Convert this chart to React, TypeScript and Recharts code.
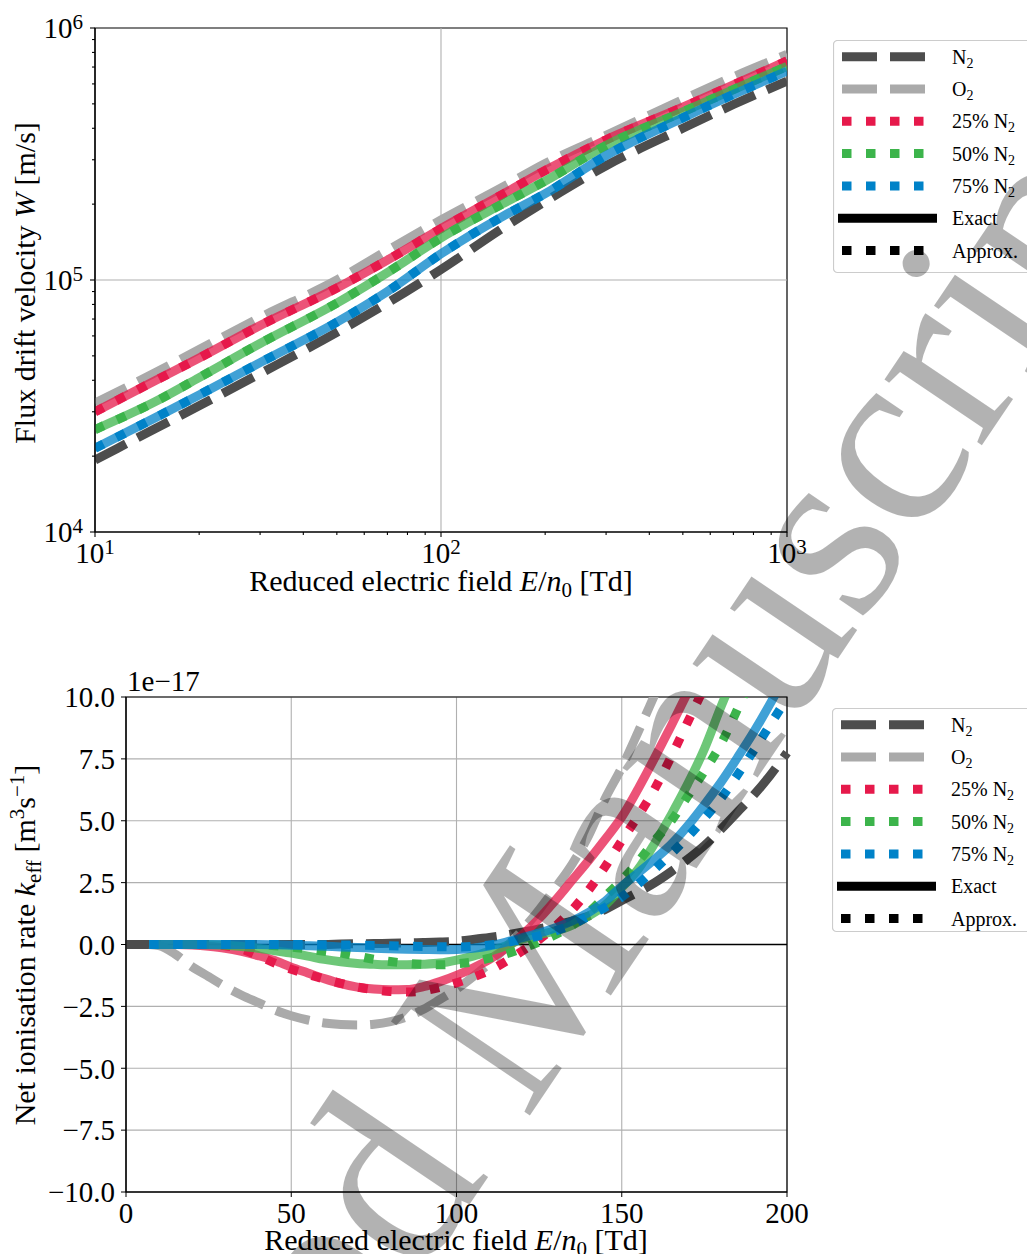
import React from 'react';
import { LineChart, Line, XAxis, YAxis, CartesianGrid, ReferenceLine, ReferenceArea, Legend } from 'recharts';

const SERIF = '"Liberation Serif", "Times New Roman", serif';

const N2_COLOR = '#4d4d4d';
const O2_COLOR = '#aaaaaa';
const C25 = '#e6194b';
const C50 = '#3cb44b';
const C75 = '#0082c8';
const DASH = '35 13';
const DOT = '9.5 14.5';

// top panel: flux drift velocity W [m/s] against E/n0 [Td]
const driftField = [10, 15, 20, 30, 50, 70, 100, 150, 200, 300, 500, 700, 1000];
const driftN2 = [1.93e4, 2.58e4, 3.17e4, 4.25e4, 6.2e4, 8.1e4, 1.1e5, 1.6e5, 2.05e5, 2.84e5, 4.0e5, 4.97e5, 6.15e5];
const driftO2 = [3.25e4, 4.3e4, 5.3e4, 7.1e4, 1.0e5, 1.31e5, 1.73e5, 2.33e5, 2.9e5, 3.75e5, 5.2e5, 6.4e5, 7.85e5];
const drift25 = [3.0e4, 4.0e4, 4.9e4, 6.6e4, 9.3e4, 1.2e5, 1.6e5, 2.18e5, 2.72e5, 3.6e5, 4.85e5, 5.95e5, 7.4e5];
const drift50 = [2.55e4, 3.3e4, 4.1e4, 5.6e4, 8.1e4, 1.07e5, 1.47e5, 2.0e5, 2.47e5, 3.42e5, 4.65e5, 5.7e5, 7.05e5];
const drift75 = [2.15e4, 2.85e4, 3.5e4, 4.7e4, 6.8e4, 9.0e4, 1.27e5, 1.78e5, 2.2e5, 3.12e5, 4.4e5, 5.45e5, 6.74e5];

const driftXTicks = [10, 20, 30, 40, 50, 60, 70, 80, 90, 100, 200, 300, 400, 500, 600, 700, 800, 900, 1000];
const driftYTicks = [
  1e4, 2e4, 3e4, 4e4, 5e4, 6e4, 7e4, 8e4, 9e4,
  1e5, 2e5, 3e5, 4e5, 5e5, 6e5, 7e5, 8e5, 9e5, 1e6,
];

// bottom panel: net ionisation rate k_eff, in units of 1e-17 m^3/s
const rateField = [0, 7, 10, 15, 20, 25, 30, 35, 40, 45, 50, 55, 60, 65, 70, 75, 80, 85, 90, 95, 100,
  105, 110, 115, 120, 125, 130, 135, 140, 145, 150, 155, 160, 165, 170, 175, 180, 185, 190, 195, 200];
const rateN2 = [0, 0, 0, 0, 0, 0, 0, 0, 0, 0, 0, 0, 0, 0.02, 0.03, 0.04, 0.05, 0.06, 0.08, 0.1, 0.13,
  0.2, 0.28, 0.38, 0.5, 0.63, 0.78, 0.95, 1.15, 1.42, 1.78, 2.12, 2.5, 2.95, 3.45, 4.0, 4.65, 5.35, 6.05, 6.85, 7.75];
const rateO2 = [null, 0, -0.05, -0.4, -0.9, -1.3, -1.7, -2.05, -2.35, -2.65, -2.88, -3.05, -3.17, -3.23, -3.25, -3.22, -3.12, -2.92, -2.62, -2.22, -1.8,
  -1.3, -0.75, -0.1, 0.6, 1.4, 2.3, 3.25, 4.4, 5.9, 7.15, 8.6, 10.1, 11.6, null, null, null, null, null, null, null];
const rate25 = [null, 0, 0, 0, -0.02, -0.07, -0.15, -0.28, -0.45, -0.65, -0.92, -1.15, -1.38, -1.58, -1.72, -1.8, -1.83, -1.82, -1.7, -1.5, -1.25,
  -0.95, -0.6, -0.15, 0.4, 1.05, 1.8, 2.6, 3.4, 4.25, 5.15, 6.3, 7.55, 8.85, 10.2, 11.5, null, null, null, null, null];
const rate25Approx = [null, 0, 0, 0, 0, 0, -0.05, -0.18, -0.45, -0.75, -1.0, -1.2, -1.4, -1.57, -1.72, -1.83, -1.9, -1.92, -1.87, -1.73, -1.55,
  -1.32, -1.05, -0.68, -0.25, 0.2, 0.75, 1.4, 2.2, 3.15, 4.2, 5.2, 6.3, 7.6, 9.0, 10.4, 11.8, null, null, null, null];
const rate50 = [null, 0, 0, 0, 0, -0.01, -0.03, -0.08, -0.15, -0.25, -0.35, -0.47, -0.6, -0.7, -0.77, -0.8, -0.82, -0.82, -0.8, -0.75, -0.63,
  -0.47, -0.27, -0.05, 0.22, 0.4, 0.55, 0.78, 1.15, 1.6, 2.3, 3.05, 4.1, 5.25, 6.5, 7.9, 9.6, 11.2, null, null, null];
const rate50Approx = [null, 0, 0, 0, 0, 0, 0, 0, 0, -0.05, -0.1, -0.18, -0.27, -0.35, -0.47, -0.6, -0.69, -0.76, -0.8, -0.82, -0.78,
  -0.7, -0.55, -0.38, -0.15, 0.1, 0.4, 0.78, 1.3, 1.95, 2.6, 3.35, 4.2, 5.0, 6.0, 7.0, 8.1, 9.5, 11.0, null, null];
const rate75 = [null, 0, 0, 0, 0, 0, 0, 0, 0, -0.01, -0.03, -0.05, -0.07, -0.1, -0.12, -0.15, -0.17, -0.19, -0.2, -0.21, -0.2,
  -0.15, -0.05, 0.1, 0.28, 0.46, 0.68, 0.95, 1.3, 1.75, 2.35, 2.9, 3.45, 4.05, 4.8, 5.65, 6.55, 7.55, 8.6, 9.75, 11.0];
const rate75Approx = [null, 0, 0, 0, 0, 0, 0, 0, 0, 0, 0, 0, -0.01, -0.02, -0.03, -0.04, -0.05, -0.07, -0.08, -0.09, -0.1,
  -0.08, -0.02, 0.08, 0.2, 0.35, 0.55, 0.8, 1.15, 1.5, 1.92, 2.45, 3.05, 3.68, 4.35, 5.1, 5.9, 6.85, 7.85, 8.9, 9.95];

const rateXTicks = [0, 50, 100, 150, 200];
const rateYTicks = [-10, -7.5, -5, -2.5, 0, 2.5, 5, 7.5, 10];

const legendItems = [
  { text: 'N', sub: '2', color: N2_COLOR, dash: DASH },
  { text: 'O', sub: '2', color: O2_COLOR, dash: DASH },
  { text: '25% N', sub: '2', color: C25, dash: DOT },
  { text: '50% N', sub: '2', color: C50, dash: DOT },
  { text: '75% N', sub: '2', color: C75, dash: DOT },
  { text: 'Exact', sub: '', color: '#000', dash: undefined },
  { text: 'Approx.', sub: '', color: '#000', dash: DOT },
];

const driftRows = driftField.map((field, i) => ({
  field, n2: driftN2[i], o2: driftO2[i], m25: drift25[i], m50: drift50[i], m75: drift75[i],
}));

const rateRows = rateField.map((field, i) => ({
  field,
  n2: rateN2[i], o2: rateO2[i],
  x25: rate25[i], a25: rate25Approx[i],
  x50: rate50[i], a50: rate50Approx[i],
  x75: rate75[i], a75: rate75Approx[i],
}));

const isDecade = (v: number) => Math.abs(Math.log10(v) - Math.round(Math.log10(v))) < 1e-9;

const LogXTick = (props: any) => {
  const { x, y, payload } = props;
  const major = isDecade(payload.value);
  return (
    <g>
      <line x1={x} x2={x} y1={y} y2={y + (major ? 5 : 3)} stroke="#000" strokeWidth={1.1} />
      {major && (
        <text x={x} y={y + 31} textAnchor="middle" fontFamily={SERIF} fontSize={29} fill="#000">
          10<tspan fontSize={21} dy={-9}>{Math.round(Math.log10(payload.value))}</tspan>
        </text>
      )}
    </g>
  );
};

const LogYTick = (props: any) => {
  const { x, y, payload } = props;
  const major = isDecade(payload.value);
  return (
    <g>
      <line x1={x} x2={x - (major ? 5 : 3)} y1={y} y2={y} stroke="#000" strokeWidth={1.1} />
      {major && (
        <text x={x - 12} y={y + 10} textAnchor="end" fontFamily={SERIF} fontSize={29} fill="#000">
          10<tspan fontSize={21} dy={-9}>{Math.round(Math.log10(payload.value))}</tspan>
        </text>
      )}
    </g>
  );
};

const fmtRate = (v: number) => v.toFixed(1).replace('-', '\u2212');

const LegendBox = ({ height }: { height: number }) => (
  <svg width={200} height={height + 2} style={{ display: 'block' }}>
    <rect x={0.5} y={0.5} width={240} height={height} rx={4} fill="#fff" fillOpacity={0.8} stroke="#cccccc" strokeWidth={1.2} />
    {legendItems.map((it, i) => {
      const cy = 16.7 + i * 32.3;
      return (
        <g key={it.text}>
          <line
            x1={it.dash ? 9 : 5} x2={104} y1={cy} y2={cy}
            stroke={it.color} strokeWidth={9} strokeDasharray={it.dash}
          />
          <text x={119} y={cy + 7} fontFamily={SERIF} fontSize={20} fill="#000">
            {it.text}
            {it.sub && <tspan fontSize={14} dy={4}>{it.sub}</tspan>}
          </text>
        </g>
      );
    })}
  </svg>
);

const base = {
  type: 'monotone' as const,
  dot: false,
  activeDot: false,
  isAnimationActive: false,
  strokeWidth: 9,
  strokeLinecap: 'butt' as const,
};

const tickFont = { fontFamily: SERIF, fontSize: 29, fill: '#000' };

export default function App() {
  return (
    <div style={{ position: 'absolute', left: 0, top: 0, width: 1027, height: 1254, background: '#fff', overflow: 'hidden' }}>
      <div style={{ position: 'absolute', left: 0, top: 0 }}>
        <LineChart width={1027} height={610} data={driftRows} margin={{ top: 28, right: 240, bottom: 18, left: 0 }}>
          <XAxis
            dataKey="field" type="number" scale="log" domain={[10, 1000]} ticks={driftXTicks} interval={0}
            allowDataOverflow height={60} tickSize={0} tickMargin={0} tickLine={false}
            axisLine={{ stroke: '#000', strokeWidth: 1.2 }} tick={(p: any) => <LogXTick {...p} />}
          />
          <YAxis
            type="number" scale="log" domain={[1e4, 1e6]} ticks={driftYTicks} interval={0}
            allowDataOverflow width={95} tickSize={0} tickMargin={0} tickLine={false}
            axisLine={{ stroke: '#000', strokeWidth: 1.2 }} tick={(p: any) => <LogYTick {...p} />}
          />
          <ReferenceLine x={100} stroke="#b0b0b0" strokeWidth={1.1} />
          <ReferenceLine y={1e5} stroke="#b0b0b0" strokeWidth={1.1} />
          <Line {...base} dataKey="n2" stroke={N2_COLOR} strokeDasharray={DASH} />
          <Line {...base} dataKey="o2" stroke={O2_COLOR} strokeDasharray={DASH} />
          <Line {...base} dataKey="m25" stroke={C25} strokeOpacity={0.75} />
          <Line {...base} dataKey="m25" stroke={C25} strokeDasharray={DOT} />
          <Line {...base} dataKey="m50" stroke={C50} strokeOpacity={0.75} />
          <Line {...base} dataKey="m50" stroke={C50} strokeDasharray={DOT} />
          <Line {...base} dataKey="m75" stroke={C75} strokeOpacity={0.75} />
          <Line {...base} dataKey="m75" stroke={C75} strokeDasharray={DOT} />
          <ReferenceArea x1={10} x2={1000} y1={1e4} y2={1e6} fill="none" stroke="#000" strokeWidth={1.2} />
          <Legend
            layout="vertical" align="center" verticalAlign="middle"
            wrapperStyle={{ left: 833, top: 40, width: 200 }}
            content={() => <LegendBox height={232} />}
          />
        </LineChart>
      </div>

      <div style={{ position: 'absolute', left: 0, top: 660 }}>
        <LineChart width={1027} height={594} data={rateRows} margin={{ top: 37, right: 240, bottom: 0, left: 0 }}>
          <CartesianGrid stroke="#b0b0b0" strokeWidth={1.1} />
          <XAxis
            dataKey="field" type="number" domain={[0, 200]} ticks={rateXTicks} interval={0}
            height={62} tickSize={5} tickMargin={5} stroke="#000" tick={tickFont}
          />
          <YAxis
            type="number" domain={[-10, 10]} ticks={rateYTicks} interval={0} allowDataOverflow
            width={126} tickSize={5} tickMargin={6} stroke="#000" tick={tickFont} tickFormatter={fmtRate}
          />
          <ReferenceLine y={0} stroke="#000" strokeWidth={1.3} />
          <Line {...base} dataKey="n2" stroke={N2_COLOR} strokeDasharray={DASH} />
          <Line {...base} dataKey="o2" stroke={O2_COLOR} strokeDasharray={DASH} />
          <Line {...base} dataKey="x25" stroke={C25} strokeOpacity={0.75} />
          <Line {...base} dataKey="a25" stroke={C25} strokeDasharray={DOT} />
          <Line {...base} dataKey="x50" stroke={C50} strokeOpacity={0.75} />
          <Line {...base} dataKey="a50" stroke={C50} strokeDasharray={DOT} />
          <Line {...base} dataKey="x75" stroke={C75} strokeOpacity={0.75} />
          <Line {...base} dataKey="a75" stroke={C75} strokeDasharray={DOT} />
          <ReferenceArea x1={0} x2={200} y1={-10} y2={10} fill="none" stroke="#000" strokeWidth={1.2} />
          <Legend
            layout="vertical" align="center" verticalAlign="middle"
            wrapperStyle={{ left: 832, top: 48, width: 200 }}
            content={() => <LegendBox height={223} />}
          />
        </LineChart>
      </div>

      <svg width={1027} height={1254} style={{ position: 'absolute', left: 0, top: 0, pointerEvents: 'none' }}>
        <g fontFamily={SERIF} fontSize={30} fill="#000">
          <text x={441} y={591} textAnchor="middle">
            {'Reduced electric field '}
            <tspan fontStyle="italic">E</tspan>/<tspan fontStyle="italic">n</tspan>
            <tspan fontSize={21} dy={6}>0</tspan>
            <tspan dy={-6}>{' [Td]'}</tspan>
          </text>
          <text x={35} y={283} textAnchor="middle" transform="rotate(-90 35 283)">
            {'Flux drift velocity '}
            <tspan fontStyle="italic">W</tspan>
            {' [m/s]'}
          </text>
          <text x={127} y={691} fontSize={29}>1e{'\u2212'}17</text>
          <text x={456} y={1250} textAnchor="middle">
            {'Reduced electric field '}
            <tspan fontStyle="italic">E</tspan>/<tspan fontStyle="italic">n</tspan>
            <tspan fontSize={21} dy={6}>0</tspan>
            <tspan dy={-6}>{' [Td]'}</tspan>
          </text>
          <text x={35} y={945} textAnchor="middle" transform="rotate(-90 35 945)">
            {'Net ionisation rate '}
            <tspan fontStyle="italic">k</tspan>
            <tspan fontSize={21} dy={6}>eff</tspan>
            <tspan dy={-6}>{' [m'}</tspan>
            <tspan fontSize={21} dy={-11}>3</tspan>
            <tspan dy={11}>s</tspan>
            <tspan fontSize={21} dy={-11}>{'\u22121'}</tspan>
            <tspan dy={11}>]</tspan>
          </text>
        </g>
        <text
          x={526 - 1031} y={1121} transform="rotate(-56 526 1121)"
          fontFamily={SERIF} fontSize={256} fill="#000" fillOpacity={0.3}
        >
          Accepted Manuscript
        </text>
      </svg>
    </div>
  );
}
